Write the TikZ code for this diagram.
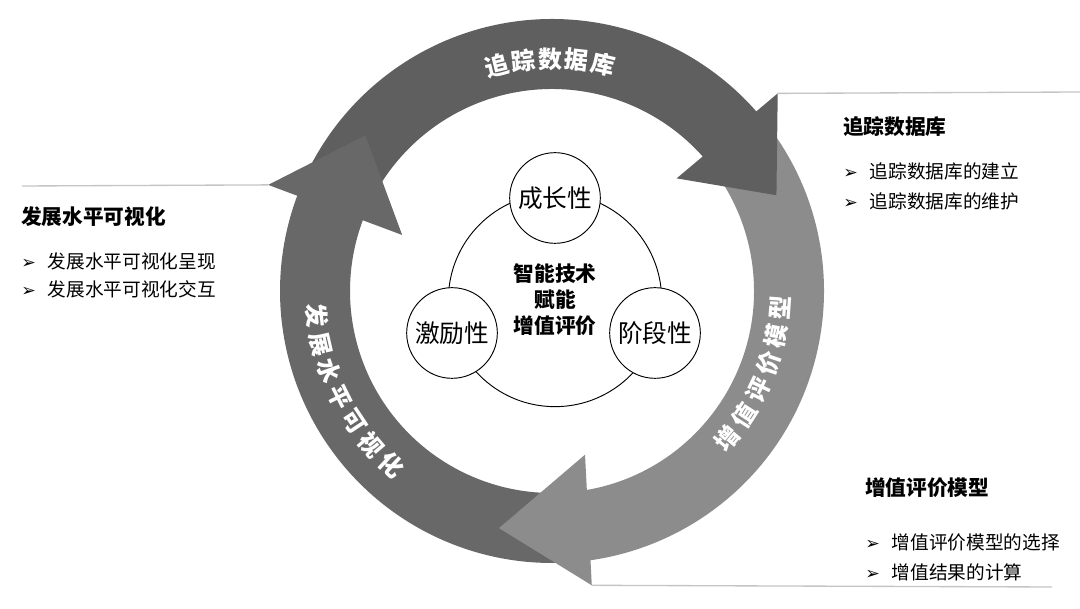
\documentclass[tikz,border=0pt]{standalone}
\usepackage{fontspec}
\setmainfont{Noto Sans CJK SC}
\newfontfamily\symfont{DejaVu Sans}
\usetikzlibrary{positioning, decorations.text}
\definecolor{topgray}{HTML}{5F5F5F}
\definecolor{leftgray}{HTML}{686868}
\definecolor{rightgray}{HTML}{8C8C8C}
\definecolor{linegray}{HTML}{C4C4C4}
\newcommand{\ringfont}{\color{white}\bfseries\fontsize{18}{20}\selectfont}
\tikzset{
    ringtext/.style={decorate, decoration={text along path, text align=fit to path, text={|\ringfont|#1}}},
    core/.style={circle, draw=black, fill=white, line width=0.7pt, minimum size=160pt, align=center, font=\bfseries\fontsize{15.5}{19.5}\selectfont},
    trait/.style={circle, draw=black, fill=white, line width=0.7pt, minimum size=68pt, inner sep=0pt, font=\fontsize{18.5}{20}\selectfont},
    paneltitle/.style={anchor=west, inner sep=0pt, font=\bfseries\fontsize{15.5}{18}\selectfont},
    panelitem/.style={anchor=west, inner sep=0pt, font=\fontsize{14}{17}\selectfont},
    panelline/.style={draw=linegray, line width=1pt}
}
\newcommand{\itemmark}{{\symfont\fontsize{13}{14}\selectfont ➢}\hspace{9pt}}

\begin{document}
\begin{tikzpicture}[x=0.75pt, y=0.75pt]
    \useasboundingbox (0,0) rectangle (1080,609);

    \begin{scope}[shift={(552,318)}]
        \fill[topgray] (156:272) arc[start angle=156, end angle=41, radius=272] -- (41:202) arc[start angle=41, end angle=156, radius=202] -- cycle;
        \fill[rightgray] (37.5:272) arc[start angle=37.5, end angle=-82.5, radius=272] -- (-82.5:202) arc[start angle=-82.5, end angle=37.5, radius=202] -- cycle;
        \fill[leftgray] (-86:272) arc[start angle=-86, end angle=-200.7, radius=272] -- (-200.7:202) arc[start angle=-200.7, end angle=-86, radius=202] -- cycle;

        \coordinate (dbbarb) at (41.2:300);
        \coordinate (evbarb) at (-82.3:297);
        \coordinate (vzbarb) at (159.5:303);

        \fill[topgray] (dbbarb) -- (23.1:244) -- (42.1:168) -- cycle;
        \fill[rightgray] (evbarb) -- (-102.6:243) -- (-78.6:167) -- cycle;
        \fill[leftgray] (vzbarb) -- (140.2:243) -- (159.5:160) -- cycle;

        \path[ringtext=追踪数据库] (106.9:223) arc[start angle=106.9, end angle=74.1, radius=223];
        \path[ringtext=增值评价模型] (-42.9:238) arc[start angle=-42.9, end angle=-1.3, radius=238];
        \path[ringtext=发展水平可视化] (183.2:246) arc[start angle=183.2, end angle=230, radius=246];
    \end{scope}

    \coordinate (dbend) at (1080,517);
    \coordinate (evend) at (1052,22);
    \coordinate (vzend) at (22,423);
    \draw[panelline] (dbbarb) -- (dbend);
    \draw[panelline] (evbarb) -- (evend);
    \draw[panelline] (vzend) -- (vzbarb);

    \node (core) [core] at (555,309) {智能技术\\赋能\\增值评价};
    \node (grow) [trait] at (555,411) {成长性};
    \node (spur) [trait] at (452,276) {激励性};
    \node (stage) [trait] at (655,276) {阶段性};

    \node (dbtitle) [paneltitle] at (843,482) {追踪数据库};
    \node (dbone) [panelitem, below=33pt of dbtitle.west, anchor=west] {\itemmark 追踪数据库的建立};
    \node (dbtwo) [panelitem, below=22.5pt of dbone.west, anchor=west] {\itemmark 追踪数据库的维护};

    \node (vztitle) [paneltitle] at (21,392) {发展水平可视化};
    \node (vzone) [panelitem, below=33pt of vztitle.west, anchor=west] {\itemmark 发展水平可视化呈现};
    \node (vztwo) [panelitem, below=21pt of vzone.west, anchor=west] {\itemmark 发展水平可视化交互};

    \node (evtitle) [paneltitle] at (865,121) {增值评价模型};
    \node (evone) [panelitem, below=41pt of evtitle.west, anchor=west] {\itemmark 增值评价模型的选择};
    \node (evtwo) [panelitem, below=22pt of evone.west, anchor=west] {\itemmark 增值结果的计算};
\end{tikzpicture}
\end{document}
